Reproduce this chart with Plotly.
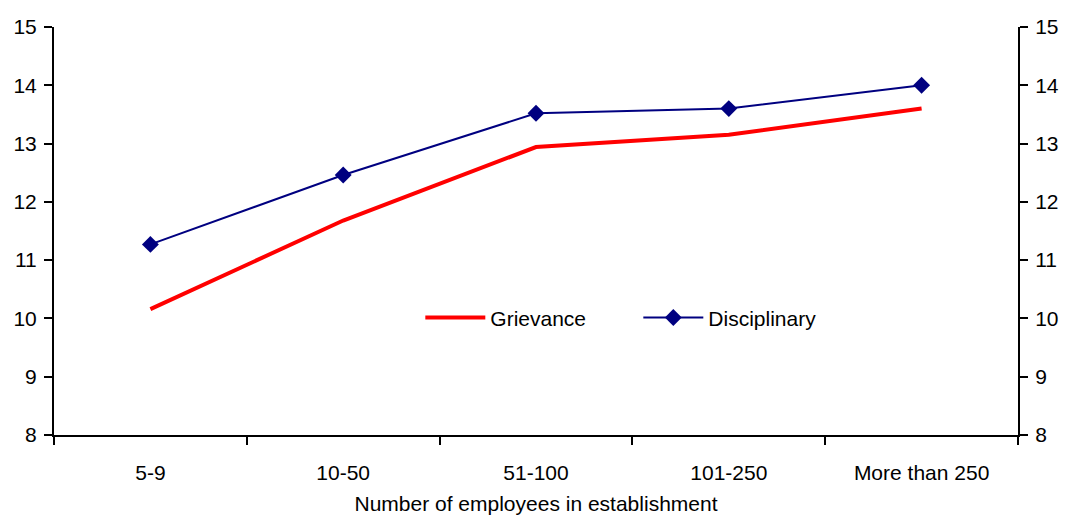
import plotly.graph_objects as go

categories = ["5-9", "10-50", "51-100", "101-250", "More than 250"]
grievance = [10.16, 11.68, 12.94, 13.15, 13.6]
disciplinary = [11.27, 12.46, 13.52, 13.6, 14.0]
y_ticks = [8, 9, 10, 11, 12, 13, 14, 15]

FONT = "Liberation Sans Narrow, Arial Narrow, Liberation Sans, sans-serif"
FS = 21

fig = go.Figure()
fig.add_trace(go.Scatter(
    x=categories, y=grievance, name="Grievance", mode="lines",
    line=dict(color="#ff0000", width=4),
))
fig.add_trace(go.Scatter(
    x=categories, y=disciplinary, name="Disciplinary", mode="lines+markers",
    line=dict(color="#000080", width=2),
    marker=dict(symbol="diamond", size=13, color="#000080"),
))
# invisible trace to carry the mirrored right-hand axis
fig.add_trace(go.Scatter(
    x=categories, y=disciplinary, yaxis="y2", showlegend=False,
    mode="lines", line=dict(width=0), hoverinfo="skip", opacity=0,
))

axis_common = dict(
    range=[8, 15], tickvals=y_ticks, showgrid=False, zeroline=False,
    showline=True, linecolor="black", linewidth=2,
    ticks="outside", ticklen=8, tickwidth=2, tickcolor="black",
    tickfont=dict(family=FONT, size=FS, color="black"),
    ticklabelstandoff=3, automargin=False,
)

fig.update_layout(
    width=1065, height=517,
    margin=dict(l=54, r=47, t=27, b=82),
    paper_bgcolor="white", plot_bgcolor="white",
    font=dict(family=FONT, color="black"),
    xaxis=dict(
        type="category", range=[-0.5, 4.5], tickson="boundaries", showgrid=False,
        showline=True, linecolor="black", linewidth=2,
        ticks="outside", ticklen=8, tickwidth=2, tickcolor="black",
        tickfont=dict(family=FONT, size=FS, color="black"),
        ticklabelstandoff=18, automargin=False,
        title=dict(text="Number of employees in establishment",
                   font=dict(family=FONT, size=FS, color="black"), standoff=13),
    ),
    yaxis=dict(**axis_common),
    yaxis2=dict(**axis_common, overlaying="y", side="right"),
    legend=dict(
        orientation="h", x=0.38, y=0.287, xanchor="left", yanchor="middle",
        font=dict(family=FONT, size=FS, color="black"),
        bgcolor="rgba(0,0,0,0)", itemwidth=60,
        entrywidth=143, entrywidthmode="pixels",
    ),
    showlegend=True,
)

fig.write_html("out.html")
